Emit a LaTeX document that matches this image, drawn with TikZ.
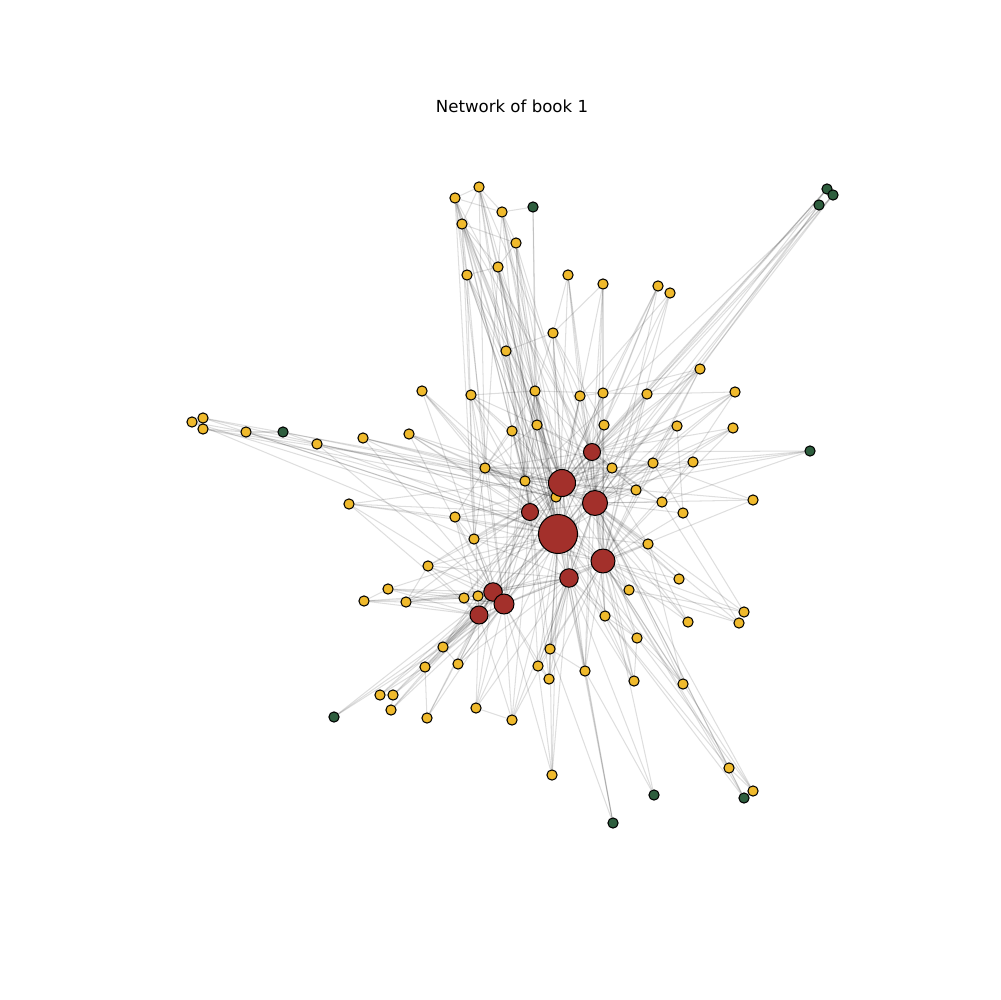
\documentclass[tikz,border=0pt]{standalone}
\usepackage{fontspec}
\setmainfont{DejaVu Sans}
\usetikzlibrary{backgrounds}
\definecolor{minor}{RGB}{240,186,44}
\definecolor{major}{RGB}{163,48,43}
\definecolor{lone}{RGB}{46,94,62}
\tikzset{
  yel/.style={circle,fill=minor,draw=black,line width=0.75pt,inner sep=0pt,minimum size=2.6mm},
  grn/.style={yel,fill=lone},
  hub/.style={circle,fill=major,draw=black,line width=0.75pt,inner sep=0pt,minimum size=#1*0.254mm},
  edge/.style={draw=black,opacity=0.13,line width=0.75pt}
}
\begin{document}
\begin{tikzpicture}[x=0.0254cm,y=-0.0254cm]
  \useasboundingbox (0,0) rectangle (1000,1000);
  \node[font=\fontsize{12}{14}\selectfont] (title) at (512,106) {Network of book 1};
  \foreach \n/\x/\y in {a1/479/187,a2/455/198,a3/502/212,a4/462/224,a5/516/243,a6/498/267,a7/467/275,a8/568/275,a9/603/284,a10/658/286,
    a11/670/293,a12/553/333,a13/506/351,a14/700/369,a15/422/391,a16/471/395,a17/535/391,a18/580/396,a19/603/393,a20/647/394,
    a21/735/392,a22/409/434,a23/512/431,a24/537/425,a25/604/425,a26/677/426,a27/733/428,a28/192/422,a29/203/418,a30/203/429,
    a31/246/432,a32/317/444,a33/363/438,a34/485/468,a35/612/468,a36/653/463,a37/693/462,a38/525/481,a39/556/497,a40/636/490,
    a41/662/502,a42/683/513,a43/753/500,a44/349/504,a45/455/517,a46/474/539,a47/648/544,a48/428/566,a49/679/579,a50/629/590,
    a51/388/589,a52/364/601,a53/406/602,a54/464/598,a55/478/596,a56/605/616,a57/744/612,a58/739/623,a59/688/622,a60/637/638,
    a61/443/647,a62/550/649,a63/425/667,a64/458/664,a65/538/666,a66/585/671,a67/549/679,a68/634/681,a69/683/684,a70/380/695,
    a71/393/695,a72/391/710,a73/427/718,a74/476/708,a75/512/720,a76/552/775,a77/729/768,a78/753/791} {
    \node[yel] (\n) at (\x,\y) {};
  }
  \foreach \n/\x/\y in {g1/533/207,g2/827/189,g3/833/195,g4/819/205,g5/283/432,g6/810/451,g7/334/717,g8/654/795,g9/744/798,g10/613/823} {
    \node[grn] (\n) at (\x,\y) {};
  }
  \foreach \n/\x/\y/\d in {h1/558/534/39,h2/562/483/27,h3/595/503/25,h4/603/561/24,h5/592/452/17,h6/530/512/17,h7/569/578/18.5,h8/493/592/18.5,h9/504/604/20,h10/479/615/18} {
    \node[hub=\d] (\n) at (\x,\y) {};
  }
  \begin{pgfonlayer}{background}
    \foreach \n in {a1,a2,a3,a4,a5,a6,a7,a8,a12,a13,a15,a16,a17,a18,a19,a20,a22,a23,a24,a25,a28,a29,a31,a32,a33,a34,a35,a36,a38,a39,a40,a44,a45,a46,a47,a48,a50,a51,a53,a56,a60,a61,a62,a64,a65,a66,a67,a68,a69,a74,a75,a76,g2,g10,h2,h3,h4,h5,h6,h7,h8,h9,h10}
      \draw[edge] (h1) -- (\n);
    \foreach \n in {a1,a2,a3,a4,a5,a6,a7,a9,a10,a12,a13,a14,a16,a17,a18,a19,a21,a22,a23,a24,a25,a26,a29,a30,a33,a34,a35,a36,a37,a38,a40,a41,a45,a46,a47,a48,a49,a50,a53,a54,a56,a59,a61,a62,a66,g3,g6,h3,h5,h6,h7,h8,h9,h10}
      \draw[edge] (h2) -- (\n);
    \foreach \n in {a3,a5,a6,a7,a8,a9,a11,a14,a18,a19,a20,a21,a25,a26,a27,a34,a35,a36,a37,a38,a40,a41,a42,a43,a47,a49,a50,a56,a57,a58,a59,a60,a62,a65,a66,a68,a69,a77,a78,g4,g9,h4,h5,h6,h7,h8,h9}
      \draw[edge] (h3) -- (\n);
    \foreach \n in {a10,a11,a19,a20,a25,a26,a27,a34,a36,a37,a38,a39,a40,a42,a43,a45,a46,a47,a49,a50,a56,a57,a58,a59,a60,a62,a65,a66,a67,a68,a69,a77,a78,g8,g9,h5,h7,h8,h9}
      \draw[edge] (h4) -- (\n);
    \foreach \n in {a1,a2,a4,a8,a9,a10,a12,a14,a18,a19,a20,a21,a24,a25,a26,a27,a34,a35,a36,a38,a40,a41,a47,a56,a62,a66,g6,h6,h7}
      \draw[edge] (h5) -- (\n);
    \foreach \n in {a1,a3,a5,a6,a13,a15,a16,a17,a22,a23,a24,a31,a34,a38,a44,a45,a46,a48,a54,a61,a62,a64,a65,a67,a75,h7,h8,h9}
      \draw[edge] (h6) -- (\n);
    \foreach \n in {a12,a17,a46,a47,a48,a53,a54,a56,a60,a62,a64,a65,a66,a67,a68,a74,a75,a76,g8,g10,h8,h9,h10}
      \draw[edge] (h7) -- (\n);
    \foreach \n in {a15,a16,a22,a32,a33,a44,a45,a46,a48,a51,a52,a53,a54,a55,a61,a63,a64,a70,a71,a72,a73,a74,g7,h9,h10}
      \draw[edge] (h8) -- (\n);
    \foreach \n in {a2,a17,a23,a34,a38,a39,a46,a48,a51,a53,a54,a55,a61,a63,a64,a65,a67,a71,a72,a73,a74,a75,a76,h10}
      \draw[edge] (h9) -- (\n);
    \foreach \n in {a4,a44,a45,a48,a51,a52,a53,a54,a55,a61,a63,a70,a71,a72,a73,a74,a75,g7}
      \draw[edge] (h10) -- (\n);
    \foreach \n in {a16,a17,a23,a24,a35,a38,a39,a45,a46}
      \draw[edge] (a34) -- (\n);
    \foreach \n in {a17,a23,a24,a35,a40}
      \draw[edge] (a38) -- (\n);
    \foreach \n in {a17,a18,a19,a24,a35,a36,a40}
      \draw[edge] (a39) -- (\n);
    \foreach \n in {a17,a23,a24,a36,a40,a41}
      \draw[edge] (a35) -- (\n);
    \foreach \a/\b in {a1/a2,a1/a3,a1/a4,a2/a4,a2/a3,a3/g1,a3/a5,a4/a5,a4/a6,a4/a7,a5/a6,a6/a7,g1/a17,g1/a24,a1/a6,a2/a7,
      a1/a23,a2/a24,a4/a38,a7/a39,a5/a24,a3/a39,a6/a38,a7/a34,a2/a46,a1/a34,a2/a38,a3/a34,a4/a17,a5/a38,a6/a39,a7/a46,a6/h1,a7/h1,
      a8/a12,a8/a18,a9/a19,a9/a12,a10/a19,a10/a25,a11/a25,a11/a18,a12/a13,a12/a17,a12/a25,a12/a35,a14/a20,a14/a40,a14/a36,a14/a19,
      a15/a34,a15/a38,a16/a23,a16/a24,a16/a17,a17/a19,a19/a20,a20/a21,a18/a19,
      a28/a29,a29/a30,a28/a31,a30/a31,a31/g5,g5/a32,a29/a39,a30/a39,a28/a46,a31/a38,g5/a38,a32/a39,a33/a38,a33/a34,a22/a34,a22/a39,
      a21/a36,a21/a41,a27/a36,a27/a40,a26/a42,a26/a36,a43/a40,a43/a36,g6/a35,g6/a41,g6/a39,
      a44/a45,a44/a38,a45/a46,a48/a53,a51/a52,a52/a53,a52/a54,a51/a55,a53/a54,
      a57/a50,a58/a50,a57/a36,a58/a41,a59/a47,a60/a56,a69/a60,a69/a47,a77/a56,a78/a60,g9/a56,a77/a78,a77/g9,
      a61/a64,a63/a73,a70/a71,a71/a72,a70/a63,g7/a61,a74/a75,a75/a62,a76/a62,a76/a65,a66/a62,a67/a62,a65/a67,g8/a66,g10/a66,g10/a62,a68/a56,a68/a60,
      g2/a39,g3/a39,g2/h2,g3/h1,g4/a14,g2/h5,g3/h3,g4/a38}
      \draw[edge] (\a) -- (\b);
  \end{pgfonlayer}
\end{tikzpicture}
\end{document}
